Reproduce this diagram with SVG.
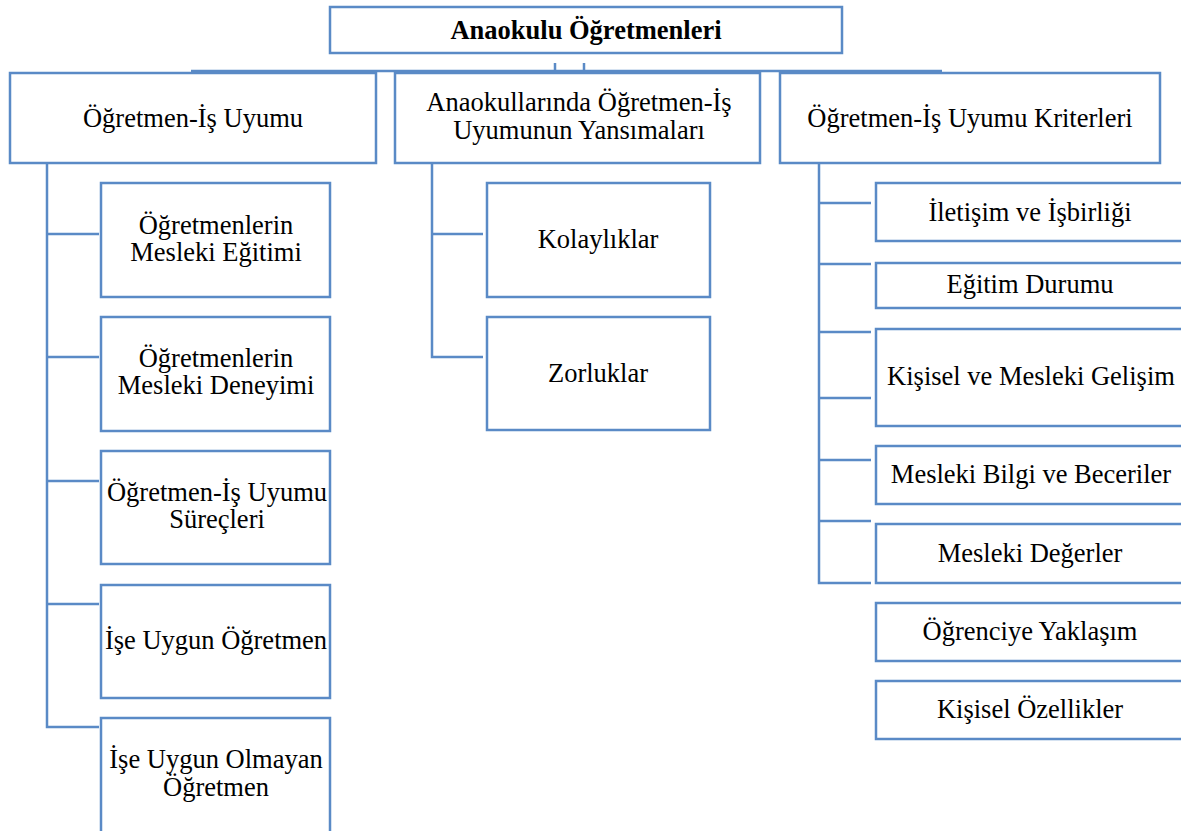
<svg xmlns="http://www.w3.org/2000/svg" width="1181" height="831" viewBox="0 0 1181 831">
<style>
.box{fill:#fff;stroke:#5A8AC6;stroke-width:2.5}
.ln{fill:none;stroke:#5A8AC6;stroke-width:2.5}
text{font-family:"Liberation Serif","Times New Roman",serif;font-size:26.5px;fill:#000;text-anchor:middle}
.b{font-weight:bold}
</style>
<rect width="1181" height="831" fill="#fff"/>
<g id="connectors">
<path class="ln" d="M191 71H942M555 63V71M584 63V71"/>
<path class="ln" d="M47 163V727H99M47 234H99M47 357H99M47 481H99M47 604H99"/>
<path class="ln" d="M432 163V357H483M432 234H483"/>
<path class="ln" d="M819 163V583H871M819 203H871M819 264H871M819 332H871M819 398H871M819 460H871M819 521H871"/>
</g>
<g id="root"><rect class="box" x="330" y="7" width="512" height="46"/><text class="b" x="586" y="39">Anaokulu Öğretmenleri</text></g>
<g id="n1"><rect class="box" x="10" y="73" width="366" height="90"/><text x="193" y="127">Öğretmen-İş Uyumu</text></g>
<g id="n2"><rect class="box" x="395" y="73" width="365" height="90"/><text x="579" y="111">Anaokullarında Öğretmen-İş</text><text x="579" y="139">Uyumunun Yansımaları</text></g>
<g id="n3"><rect class="box" x="780" y="73" width="380" height="90"/><text x="970" y="127">Öğretmen-İş Uyumu Kriterleri</text></g>
<g id="n1a"><rect class="box" x="101" y="183" width="229" height="114"/><text x="216" y="234">Öğretmenlerin</text><text x="216" y="261">Mesleki Eğitimi</text></g>
<g id="n1b"><rect class="box" x="101" y="317" width="229" height="114"/><text x="216" y="367">Öğretmenlerin</text><text x="216" y="394">Mesleki Deneyimi</text></g>
<g id="n1c"><rect class="box" x="101" y="451" width="229" height="113"/><text x="217" y="501">Öğretmen-İş Uyumu</text><text x="217" y="528">Süreçleri</text></g>
<g id="n1d"><rect class="box" x="101" y="585" width="229" height="113"/><text x="216" y="649">İşe Uygun Öğretmen</text></g>
<g id="n1e"><rect class="box" x="101" y="718" width="229" height="120"/><text x="216" y="768">İşe Uygun Olmayan</text><text x="216" y="796">Öğretmen</text></g>
<g id="n2a"><rect class="box" x="487" y="183" width="223" height="114"/><text x="598" y="248">Kolaylıklar</text></g>
<g id="n2b"><rect class="box" x="487" y="317" width="223" height="113"/><text x="598" y="382">Zorluklar</text></g>
<g id="n3a"><rect class="box" x="876" y="183" width="310" height="58"/><text x="1030" y="221">İletişim ve İşbirliği</text></g>
<g id="n3b"><rect class="box" x="876" y="263" width="310" height="45"/><text x="1030" y="293">Eğitim Durumu</text></g>
<g id="n3c"><rect class="box" x="876" y="329" width="310" height="97"/><text x="1031" y="385">Kişisel ve Mesleki Gelişim</text></g>
<g id="n3d"><rect class="box" x="876" y="446" width="310" height="58"/><text x="1031" y="483">Mesleki Bilgi ve Beceriler</text></g>
<g id="n3e"><rect class="box" x="876" y="524" width="310" height="59"/><text x="1030" y="562">Mesleki Değerler</text></g>
<g id="n3f"><rect class="box" x="876" y="603" width="310" height="58"/><text x="1030" y="640">Öğrenciye Yaklaşım</text></g>
<g id="n3g"><rect class="box" x="876" y="681" width="310" height="58"/><text x="1030" y="718">Kişisel Özellikler</text></g>
</svg>
